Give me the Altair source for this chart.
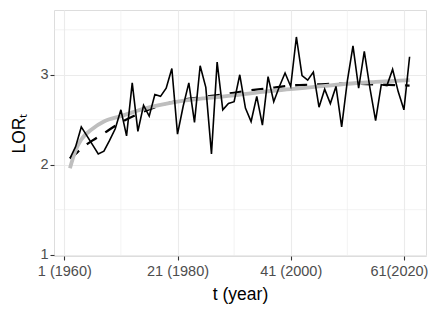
import altair as alt
import pandas as pd

# observed series (t = 2..62)
t_obs = list(range(2, 63))
lor_obs = [2.07, 2.20, 2.42, 2.32, 2.22, 2.12, 2.15, 2.27, 2.40, 2.61,
           2.32, 2.91, 2.37, 2.66, 2.54, 2.78, 2.76, 2.85, 3.07, 2.34,
           2.65, 2.91, 2.47, 3.10, 2.86, 2.12, 3.14, 2.61, 2.68, 2.70,
           3.00, 2.63, 2.48, 2.76, 2.44, 2.98, 2.70, 2.87, 3.02, 2.87,
           3.42, 2.99, 2.94, 3.03, 2.64, 2.84, 2.68, 2.87, 2.42, 2.93,
           3.32, 2.85, 3.26, 2.85, 2.49, 2.89, 2.88, 3.06, 2.81, 2.61,
           3.20]

# dashed fitted line
t_fit = [2, 3, 4, 6, 8, 11, 15, 18, 21, 25, 29, 33, 37, 41, 45, 49, 53, 57, 62]
lor_fit = [2.07, 2.12, 2.18, 2.27, 2.35, 2.47, 2.59, 2.66, 2.71, 2.75,
           2.78, 2.82, 2.85, 2.88, 2.89, 2.90, 2.90, 2.89, 2.88]

# grey smooth curve
t_smooth = [2, 3, 4, 6, 8, 11, 15, 21, 26, 31, 36, 41, 46, 51, 56, 62]
lor_smooth = [1.96, 2.16, 2.28, 2.40, 2.48, 2.54, 2.62, 2.70, 2.74, 2.77,
              2.81, 2.84, 2.87, 2.90, 2.92, 2.94]

x_ticks = [1, 21, 41, 61]
x_labels = ["1 (1960)", "21 (1980)", "41 (2000)", "61(2020)"]
y_ticks = [1, 2, 3]
x_minor = [11, 31, 51]
y_minor = [1.5, 2.5, 3.5]

obs = pd.DataFrame({"t": t_obs, "lor": lor_obs})
fit = pd.DataFrame({"t": t_fit, "lor": lor_fit})
smooth = pd.DataFrame({"t": t_smooth, "lor": lor_smooth})
xminor_df = pd.DataFrame({"t": x_minor})
yminor_df = pd.DataFrame({"lor": y_minor})

label_expr = ""
for v, lab in zip(x_ticks, x_labels):
    label_expr += f"datum.value == {v} ? '{lab}' : "
label_expr += "''"

FONT = "Liberation Sans"
xscale = alt.Scale(domain=[-0.82, 64.9], nice=False, zero=False)
yscale = alt.Scale(domain=[0.985, 3.72], nice=False, zero=False)

xaxis = alt.Axis(values=x_ticks, labelExpr=label_expr, title="t (year)",
                 grid=True, gridColor="#EBEBEB", gridWidth=1.1,
                 domain=False, tickColor="#333333", tickSize=4, tickWidth=1.1,
                 labelColor="#4D4D4D", labelFontSize=14.5, labelFont=FONT,
                 labelPadding=4, labelBound=False,
                 labelOffset={"condition": {"test": f"datum.value == {x_ticks[-1]}", "value": -5},
                              "value": 0},
                 titleFont=FONT, titleFontSize=17.5,
                 titleFontWeight="normal", titleColor="#000000", titlePadding=8)
yaxis = alt.Axis(values=y_ticks, title="LORₜ",
                 grid=True, gridColor="#EBEBEB", gridWidth=1.1,
                 domain=False, tickColor="#333333", tickSize=4, tickWidth=1.1,
                 labelColor="#4D4D4D", labelFontSize=14.5, labelFont=FONT,
                 labelPadding=2, titleFont=FONT, titleFontSize=17.5,
                 titleFontWeight="normal", titleColor="#000000", titlePadding=11)

vminor = alt.Chart(xminor_df).mark_rule(color="#EBEBEB", strokeWidth=0.6).encode(
    x=alt.X("t:Q", scale=xscale, axis=xaxis))
hminor = alt.Chart(yminor_df).mark_rule(color="#EBEBEB", strokeWidth=0.6).encode(
    y=alt.Y("lor:Q", scale=yscale, axis=yaxis))

dashed = alt.Chart(fit).mark_line(color="#000000", strokeWidth=2.3, strokeDash=[12, 10],
                                  interpolate="monotone").encode(
    x=alt.X("t:Q", scale=xscale, axis=xaxis),
    y=alt.Y("lor:Q", scale=yscale, axis=yaxis))
grey = alt.Chart(smooth).mark_line(color="#BEBEBE", strokeWidth=3.8, interpolate="monotone").encode(
    x=alt.X("t:Q", scale=xscale, axis=xaxis),
    y=alt.Y("lor:Q", scale=yscale, axis=yaxis))
black = alt.Chart(obs).mark_line(color="#000000", strokeWidth=1.6).encode(
    x=alt.X("t:Q", scale=xscale, axis=xaxis),
    y=alt.Y("lor:Q", scale=yscale, axis=yaxis))

chart = alt.layer(vminor, hminor, dashed, grey, black).properties(
    width=372, height=246,
    autosize=alt.AutoSizeParams(type="none"),
    padding={"left": 46, "top": 2, "right": 2, "bottom": 48},
).configure_view(stroke="#333333", strokeWidth=1.1).configure(background="white")

chart.save("out.html", embed_options={"renderer": "svg", "actions": False})
